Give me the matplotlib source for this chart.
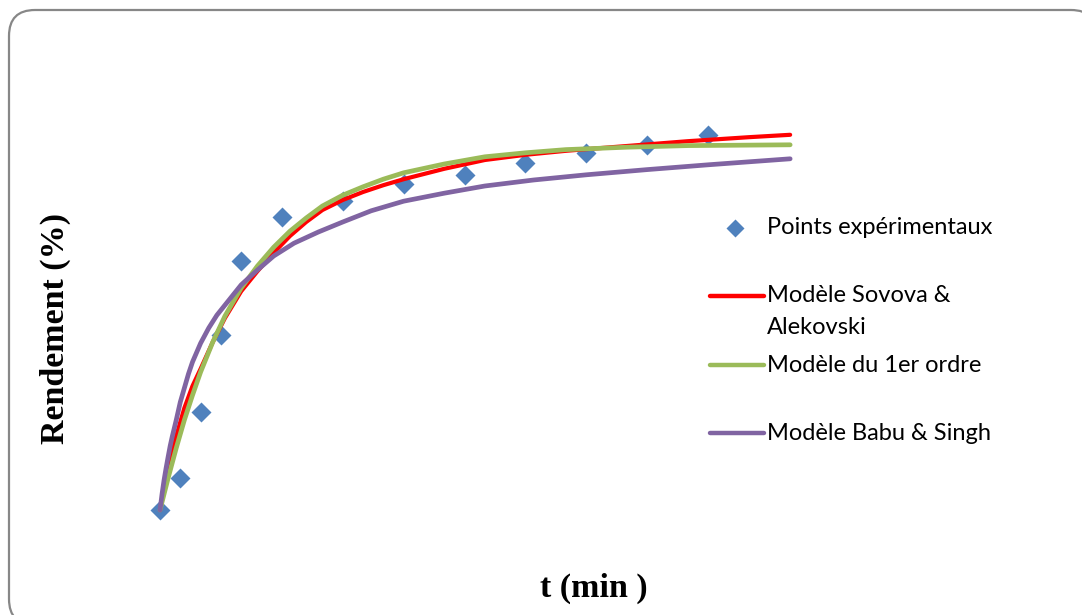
import matplotlib.pyplot as plt
from matplotlib.patches import FancyBboxPatch
from matplotlib.lines import Line2D

# experimental points: time (min) and yield (%)
t_exp = [0, 5, 10, 15, 20, 30, 45, 60, 75, 90, 105, 120, 135]
y_exp = [0.25, 1.05, 2.70, 4.63, 6.48, 7.58, 7.98, 8.40, 8.63, 8.93, 9.18, 9.38, 9.63]

# model curves
t_sov = [0, 2, 4, 6, 8, 10, 13, 16, 20, 24, 28, 32, 36, 40, 45, 50, 55, 60, 70, 80, 90, 100, 115, 130, 145, 155.2]
y_sov = [0.25, 1.25, 2.10, 2.80, 3.35, 3.78, 4.45, 5.05, 5.72, 6.22, 6.68, 7.10, 7.45, 7.75, 8.00, 8.20, 8.37,
         8.52, 8.78, 9.00, 9.13, 9.23, 9.35, 9.47, 9.57, 9.63]

t_1er = [0, 2, 4, 6, 8, 10, 13, 16, 20, 24, 28, 32, 36, 40, 45, 50, 55, 60, 70, 80, 90, 100, 115, 130, 155.2]
y_1er = [0.25, 1.05, 1.80, 2.50, 3.12, 3.70, 4.45, 5.10, 5.80, 6.35, 6.82, 7.22, 7.55, 7.85, 8.12, 8.33, 8.52,
         8.68, 8.90, 9.08, 9.18, 9.26, 9.32, 9.36, 9.38]

t_babu = [0, 0.5, 1, 1.5, 2, 2.5, 3, 4, 5, 6, 7, 8, 10, 12, 14, 17, 20, 24, 28, 33, 39, 45, 52, 60, 70, 80, 92,
          105, 120, 135, 155.2]
y_babu = [0.25, 0.65, 1.00, 1.30, 1.58, 1.85, 2.08, 2.50, 2.95, 3.30, 3.65, 3.95, 4.42, 4.80, 5.12, 5.50, 5.88,
          6.25, 6.60, 6.92, 7.20, 7.45, 7.73, 7.97, 8.17, 8.35, 8.50, 8.63, 8.76, 8.88, 9.03]

fig = plt.figure(figsize=(10.82, 6.15), dpi=100)
ax = fig.add_axes([0.0916, 0.1382, 0.6942, 0.6992])
ax.plot(t_exp, y_exp, 'D', color='#4F81BD', ms=10, mec='none', zorder=2)
ax.plot(t_sov, y_sov, color='#FF0000', lw=3.0, solid_capstyle='round', solid_joinstyle='round', zorder=3)
ax.plot(t_1er, y_1er, color='#9BBB59', lw=3.4, solid_capstyle='round', solid_joinstyle='round', zorder=4)
ax.plot(t_babu, y_babu, color='#8064A2', lw=3.4, solid_capstyle='round', solid_joinstyle='round', zorder=5)
ax.set_xlim(-15, 170)
ax.set_ylim(-0.25, 10.5)
ax.axis('off')

# overlay in pixel coordinates for frame, labels and legend
ov = fig.add_axes([0, 0, 1, 1], zorder=-1)
ov.set_xlim(0, 1082)
ov.set_ylim(615, 0)
ov.axis('off')
ov.add_patch(FancyBboxPatch((9, 10), 1088, 615, boxstyle='round,pad=0,rounding_size=26',
                            fc='white', ec='#878787', lw=1.6, clip_on=False))

serif = dict(family='Liberation Serif', fontweight='bold', fontsize=24.5)
ov.text(55, 328, 'Rendement (%)', rotation=90, ha='center', va='center', **serif)
ov.text(594, 588, 't (min )', ha='center', va='center', **serif)

leg_font = dict(family='Lato', fontsize=17, va='center', ha='left')
ov2 = fig.add_axes([0, 0, 1, 1], zorder=10)
ov2.set_xlim(0, 1082)
ov2.set_ylim(615, 0)
ov2.axis('off')
ov2.plot([735], [228], 'D', color='#4F81BD', ms=9, mec='none')
ov2.text(767, 228, 'Points expérimentaux', **leg_font)
for yy, col, lab in [(296, '#FF0000', 'Modèle Sovova &'),
                     (365, '#9BBB59', 'Modèle du 1er ordre'),
                     (433, '#8064A2', 'Modèle Babu & Singh')]:
    ov2.add_line(Line2D([710, 764], [yy, yy], color=col, lw=3.2, solid_capstyle='round'))
    ov2.text(767, yy, lab, **leg_font)
ov2.text(767, 328, 'Alekovski', **leg_font)

fig.savefig('out.png', dpi=100)
